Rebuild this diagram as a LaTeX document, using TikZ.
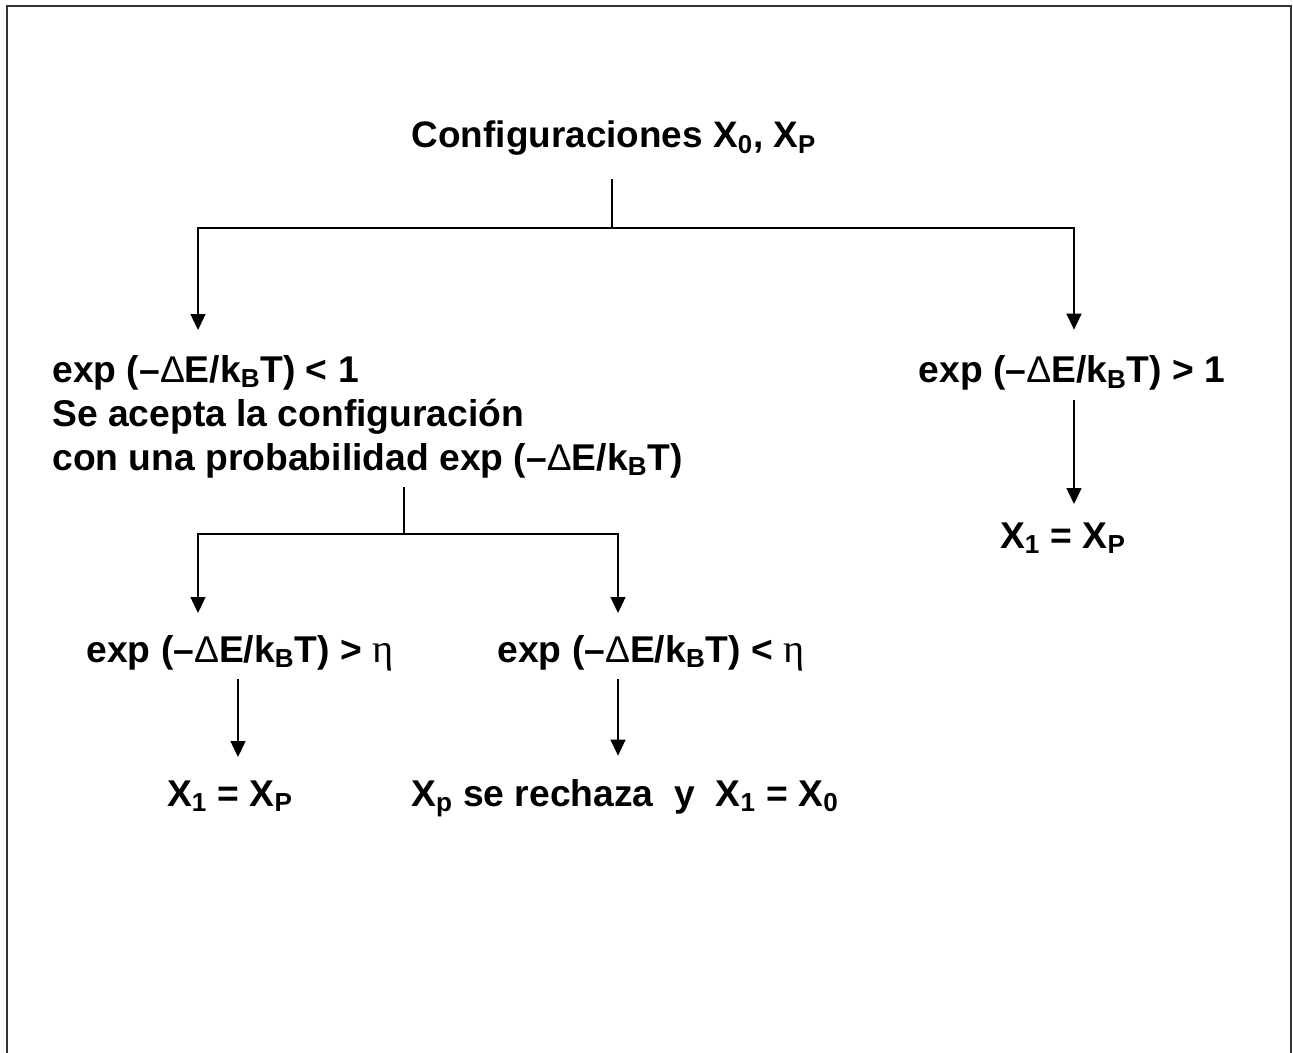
\documentclass[tikz,border=0pt]{standalone}
\usepackage{fontspec}
\setmainfont{Liberation Sans}
\newfontfamily\greekfont{Liberation Serif}
\usetikzlibrary{
    arrows.meta,
    positioning,
    calc
}

\newcommand{\dEkT}{(–{\mdseries Δ}E/k\textsubscript{B}T)}
\newcommand{\etasym}{{\greekfont\mdseries\fontsize{23}{25}\selectfont η}}

\begin{document}
\begin{tikzpicture}[
    x=0.02cm, y=-0.02cm,
    every node/.style={font=\bfseries\fontsize{21.2}{25}\selectfont, inner sep=0pt},
    heading/.style={font=\bfseries\fontsize{21}{25}\selectfont, anchor=base},
    cond/.style={anchor=base},
    block/.style={anchor=north west, align=left},
    link/.style={line width=0.8pt},
    arrow/.style={-{Triangle[length=0.32cm, width=0.3cm]}, line width=0.8pt}
]
\useasboundingbox (0,0) rectangle (1293,1053);
\draw[line width=1.2pt, black!80] (7,1053) -- (7,6) -- (1291,6) -- (1291,1053);

\node[heading] (title) at (614,148) {Configuraciones X\textsubscript{0}, X\textsubscript{P}};
\node[block] (condA) at (52,355) {exp \dEkT{} < 1\\Se acepta la configuración\\con una probabilidad exp \dEkT};
\node[cond] (condB) at (1072,383) {exp \dEkT{} > 1};
\node[cond] (resB) at (1063,548) {X\textsubscript{1} = X\textsubscript{P}};
\node[cond] (condC) at (240,662) {exp \dEkT{} > \etasym};
\node[cond] (condD) at (651,662) {exp \dEkT{} < \etasym};
\node[cond] (resC) at (230,806) {X\textsubscript{1} = X\textsubscript{P}};
\node[cond] (resD) at (625,806) {X\textsubscript{p} se rechaza\ \ y\ \ X\textsubscript{1} = X\textsubscript{0}};

% branching points
\coordinate (forkA) at (612,228);
\coordinate (tipA) at (198,330);
\coordinate (forkB) at (404,534);
\coordinate (tipC) at (198,613);
\coordinate (tipD) at (618,613);

\draw[link, shorten <=0.46cm] (title.south -| forkA) -- (forkA);
\draw[arrow] (forkA) -| (tipA);
\draw[arrow, shorten >=0.52cm] (forkA) -| ([xshift=0.04cm]condB.north);
\draw[link, shorten <=0.18cm] (condA.south -| forkB) -- (forkB);
\draw[arrow] (forkB) -| (tipC);
\draw[arrow] (forkB) -| (tipD);

\draw[arrow, shorten <=0.18cm, shorten >=0.36cm] ([xshift=0.04cm]condB.south) -- ([xshift=0.04cm]condB.south |- resB.north);
\draw[arrow, shorten <=0.16cm, shorten >=0.46cm] ([xshift=-0.04cm]condC.south) -- ([xshift=-0.04cm]condC.south |- resC.north);
\draw[arrow, shorten <=0.16cm, shorten >=0.46cm] (tipD |- condD.south) -- (tipD |- resD.north);
\end{tikzpicture}
\end{document}
